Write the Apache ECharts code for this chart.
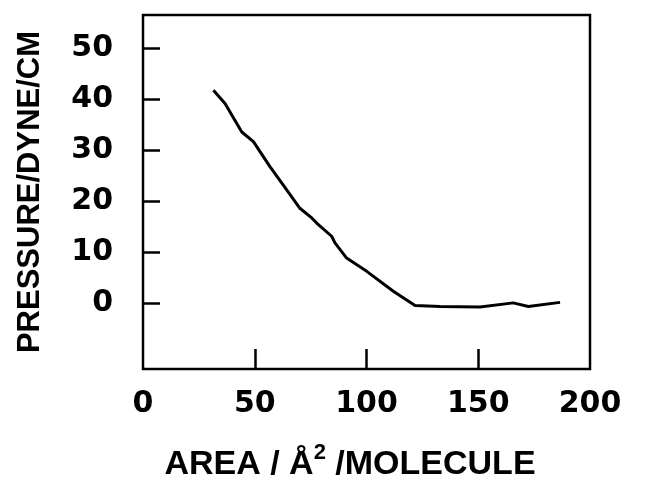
<!DOCTYPE html>
<html>
<head>
<meta charset="utf-8">
<script src="https://cdn.jsdelivr.net/npm/echarts@6/dist/echarts.min.js"></script>
<style>
html, body { margin: 0; padding: 0; background: #fff; }
#chart { width: 650px; height: 484px; }
</style>
</head>
<body>
<div id="chart"></div>
<script>
// 曲线数据 (area, pressure)
var areaVals = [31.5, 36.7, 44.2, 49.4, 56.8, 64.3, 70.2, 75.5, 77.7, 84.4, 85.9, 91.1, 100.1, 112.0, 121.7, 132.9, 150.8, 165.7, 172.4, 186.6];
var pressureVals = [41.8, 39.2, 33.6, 31.7, 26.8, 22.2, 18.6, 16.7, 15.7, 13.1, 11.8, 8.8, 6.2, 2.3, -0.5, -0.7, -0.8, 0.0, -0.7, 0.1];
var yTicks = [0, 10, 20, 30, 40, 50];
var xTicks = [0, 50, 100, 150, 200];

var points = [];
for (var i = 0; i < areaVals.length; i++) {
	points.push([areaVals[i], pressureVals[i]]);
}

var nameFont = "'Liberation Sans', sans-serif";
var digits = "'DejaVu Sans', sans-serif";

var myChart = echarts.init(document.getElementById('chart'));
var option = {
	backgroundColor: '#fff',
	animation: false,
	grid: {
		left: 143, top: 15, right: 60, bottom: 115,
		outerBoundsMode: 'none',
		containLabel: false,
		show: true,
		borderColor: '#000',
		borderWidth: 2.5
	},
	xAxis: {
		type: 'value',
		min: 0,
		max: 200,
		interval: 50,
		name: 'AREA / Å{sup|2} /MOLECULE',
		nameLocation: 'middle',
		nameGap: 73,
		nameTextStyle: {
			fontFamily: nameFont,
			fontWeight: 'bold',
			fontSize: 34,
			color: '#000',
			padding: [0, 33, 0, 0],
			rich: {
				sup: { fontFamily: nameFont, fontWeight: 'bold', fontSize: 22, color: '#000', verticalAlign: 'bottom', padding: [0, 0, 24, 0] }
			}
		},
		axisLine: { show: false, onZero: false },
		splitLine: { show: false },
		axisTick: {
			inside: true,
			length: 20,
			customValues: [50, 100, 150],
			lineStyle: { color: '#000', width: 2.5 }
		},
		axisLabel: {
			margin: 20,
			fontFamily: digits,
			fontWeight: 'bold',
			fontSize: 30,
			color: '#000',
			customValues: xTicks
		}
	},
	yAxis: {
		type: 'value',
		min: -13,
		max: 56.6,
		name: 'PRESSURE/DYNE/CM',
		nameLocation: 'middle',
		nameGap: 97,
		nameTextStyle: {
			fontFamily: nameFont,
			fontWeight: 'bold',
			fontSize: 31,
			color: '#000'
		},
		axisLine: { show: false, onZero: false },
		splitLine: { show: false },
		axisTick: {
			inside: true,
			length: 17,
			customValues: yTicks,
			lineStyle: { color: '#000', width: 2.5 }
		},
		axisLabel: {
			margin: 30,
			fontFamily: digits,
			fontWeight: 'bold',
			fontSize: 30,
			color: '#000',
			customValues: yTicks
		}
	},
	series: [
		{
			type: 'line',
			data: points,
			symbol: 'none',
			smooth: false,
			lineStyle: { color: '#000', width: 3 }
		}
	]
};

myChart.setOption(option);
</script>
</body>
</html>
